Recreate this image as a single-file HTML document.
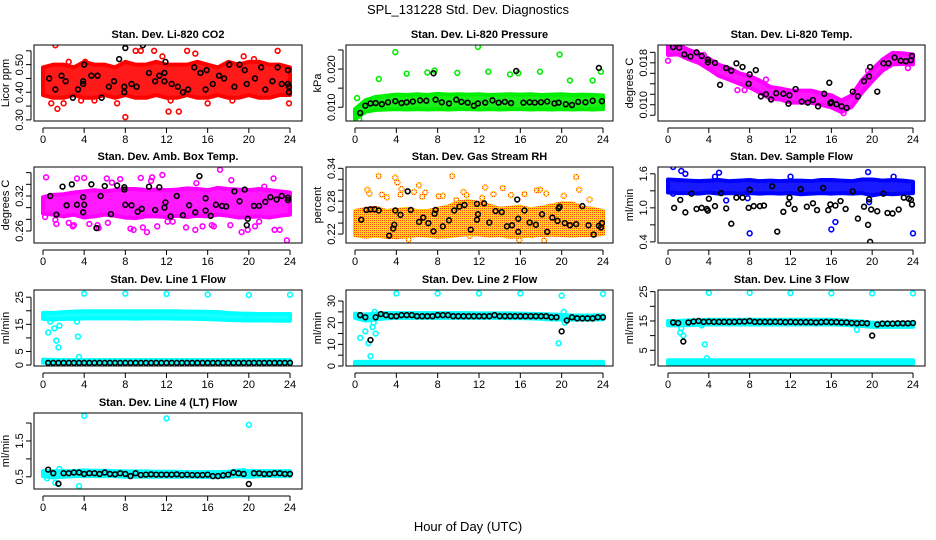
<!DOCTYPE html>
<html><head><meta charset="utf-8"><title>SPL_131228 Std. Dev. Diagnostics</title>
<style>
html,body{margin:0;padding:0;background:#fff;}
svg{display:block;font-family:"Liberation Sans",Arial,sans-serif;}
</style></head>
<body>
<svg id="chart" width="936" height="540" viewBox="0 0 936 540" xmlns="http://www.w3.org/2000/svg">
<defs>
<pattern id="rhcheck" width="2" height="2" patternUnits="userSpaceOnUse">
<rect width="2" height="2" fill="#ffd000"/><rect width="1" height="1" fill="#ff4000"/>
</pattern>
</defs>
<text x="468" y="14" text-anchor="middle" font-size="13">SPL_131228  Std. Dev. Diagnostics</text>
<text x="468" y="531" text-anchor="middle" font-size="13">Hour of Day (UTC)</text>
<g id="panels"></g>
</svg>
<script>
const hours25=[0,1,2,3,4,5,6,7,8,9,10,11,12,13,14,15,16,17,18,19,20,21,22,23,24];
const halfHours=[0.5,1,1.5,2,2.5,3,3.5,4,4.5,5,5.5,6,6.5,7,7.5,8,8.5,9,9.5,10,10.5,11,11.5,12,12.5,13,13.5,14,14.5,15,15.5,16,16.5,17,17.5,18,18.5,19,19.5,20,20.5,21,21.5,22,22.5,23,23.5,24];
const xTicks=[0,4,8,12,16,20,24];

// Panel 1: CO2
const co2Lo=[0.39,0.38,0.38,0.39,0.38,0.38,0.39,0.38,0.39,0.38,0.38,0.39,0.38,0.38,0.39,0.38,0.38,0.39,0.38,0.38,0.39,0.38,0.38,0.39,0.39];
const co2Hi=[0.49,0.50,0.50,0.49,0.51,0.50,0.50,0.49,0.51,0.50,0.50,0.51,0.50,0.50,0.50,0.51,0.50,0.49,0.51,0.50,0.51,0.51,0.50,0.50,0.49];
const co2OutH=[1.2,1.4,8,12.2,13.2,9,9.5,10.8,14,14.8,22.8,23.9,4.1,2.5,20.5,0.8,3.7,16,18.4,5,12.4,11.6,7.2,19.5,2];
const co2OutV=[0.57,0.34,0.31,0.33,0.33,0.55,0.55,0.55,0.55,0.54,0.55,0.36,0.51,0.51,0.52,0.36,0.37,0.36,0.37,0.37,0.37,0.53,0.36,0.53,0.36];
const co2BlkH=[0.6,1.2,1.8,2.2,2.9,3.4,3.9,3.9,4.0,4.7,5.3,5.7,6.4,6.9,7.4,7.9,7.9,8,8.6,9.1,9.7,10.3,10.9,11.3,11.8,11.8,11.9,12.5,13.1,13.6,14.1,14.7,15.3,15.8,15.9,16.5,17.1,17.6,18.1,18.6,19.1,19.6,19.8,20.6,21.2,21.6,22.3,22.8,23.2,23.8,23.8,23.9,23.9];
const co2BlkV=[0.45,0.41,0.46,0.44,0.38,0.41,0.44,0.43,0.50,0.46,0.46,0.38,0.42,0.44,0.52,0.40,0.42,0.56,0.43,0.42,0.57,0.47,0.44,0.46,0.44,0.47,0.51,0.43,0.42,0.40,0.41,0.49,0.47,0.41,0.48,0.43,0.46,0.45,0.50,0.42,0.50,0.48,0.43,0.45,0.49,0.41,0.44,0.49,0.43,0.48,0.43,0.40,0.42];

// Panel 2: Pressure
const prLo=[0.0068,0.0088,0.0093,0.0094,0.0095,0.0094,0.0095,0.0094,0.0095,0.0094,0.0095,0.0095,0.0094,0.0095,0.0094,0.0095,0.0095,0.0094,0.0095,0.0094,0.0095,0.0094,0.0095,0.0094,0.0095];
const prHi=[0.0095,0.0118,0.0127,0.0130,0.0133,0.0132,0.0134,0.0132,0.0135,0.0133,0.0134,0.0133,0.0134,0.0132,0.0133,0.0134,0.0133,0.0134,0.0132,0.0133,0.0134,0.0132,0.0133,0.0132,0.0131];
const prOutH=[3.9,11.9,19.8,5,2.3,7,7.7,9.9,12.9,15,15.8,17.9,20.8,23,23.8,0.2,0.4];
const prOutV=[0.0244,0.0258,0.0238,0.0188,0.0174,0.0191,0.0196,0.0190,0.0193,0.0186,0.0189,0.0193,0.0170,0.0170,0.0193,0.0124,0.0069];
const prBlkH=[0.5,1,1.5,2,2.6,3.2,3.9,4.5,5,5.6,6.3,6.9,7.6,7.8,8.4,9.1,9.8,10.3,10.9,11.5,11.9,12.6,13.3,13.9,14.5,15.1,15.6,16.3,16.9,17.4,18,18.6,19.3,19.7,20.4,21,21.6,22.3,23,23.6,23.9];
const prBlkV=[0.0085,0.0104,0.0110,0.0111,0.0108,0.0113,0.0116,0.0111,0.0113,0.0115,0.0118,0.0117,0.0189,0.0120,0.0113,0.0110,0.0120,0.0114,0.0112,0.0104,0.0110,0.0112,0.0118,0.0112,0.0114,0.0111,0.0195,0.0112,0.0113,0.0112,0.0113,0.0115,0.0110,0.0112,0.0108,0.0106,0.0114,0.0113,0.0117,0.0203,0.0116];

// Panel 3: Li-820 Temp
const tmpLo=[0.0195,0.0196,0.0187,0.0180,0.0168,0.0155,0.0148,0.0140,0.0133,0.0123,0.0112,0.0110,0.0104,0.0104,0.0104,0.0100,0.0095,0.0086,0.0096,0.0123,0.0145,0.0165,0.0177,0.0178,0.0177];
const tmpHi=[0.0215,0.0214,0.0205,0.0198,0.0188,0.0176,0.0170,0.0160,0.0155,0.0146,0.0134,0.0131,0.0127,0.0127,0.0127,0.0122,0.0118,0.0108,0.0118,0.0147,0.0167,0.0186,0.0199,0.0198,0.0196];
const tmpOutH=[0.0,7.5,9.6,23.5,17.2,6.8,3.5,19.6];
const tmpOutV=[0.0184,0.0128,0.0148,0.0170,0.0084,0.0128,0.0195,0.0165];
const tmpBlkH=[0.5,1.1,1.6,2.2,2.8,3.3,3.9,3.9,4.6,5.1,5.7,6.2,6.7,7.3,7.9,8,8.6,9.1,9.6,10.1,10.6,11.3,11.8,11.9,12.5,13.1,13.7,14.2,14.7,15.3,15.8,15.9,16.0,16.5,17.0,17.5,18.1,18.6,19.2,19.7,19.8,20.5,21.1,21.6,22.2,22.8,23.3,23.8,23.9];
const tmpBlkV=[0.0210,0.0209,0.0196,0.0192,0.0200,0.0193,0.0186,0.0181,0.0180,0.0138,0.0170,0.0165,0.0179,0.0172,0.0140,0.0158,0.0166,0.0116,0.0120,0.0110,0.0122,0.0121,0.0102,0.0118,0.0130,0.0106,0.0104,0.0109,0.0097,0.0121,0.0142,0.0103,0.0105,0.0101,0.0097,0.0094,0.0125,0.0116,0.0145,0.0154,0.0172,0.0125,0.0179,0.0179,0.0190,0.0184,0.0183,0.0185,0.0193];

// Panel 4: Amb Box Temp
const ambLo=[0.290,0.288,0.285,0.288,0.283,0.285,0.288,0.286,0.283,0.282,0.285,0.285,0.284,0.286,0.284,0.286,0.285,0.288,0.286,0.283,0.284,0.285,0.283,0.286,0.288];
const ambHi=[0.318,0.322,0.323,0.326,0.328,0.330,0.328,0.330,0.332,0.332,0.330,0.331,0.330,0.331,0.333,0.332,0.330,0.334,0.332,0.331,0.330,0.332,0.330,0.328,0.326];
const ambOutH=[0.3,0.2,1.3,2.9,3.3,4.0,4.5,5.3,6.2,6.7,7.5,8.5,9.5,10.1,10.5,11.1,12.6,13.9,14.9,16.6,17.2,18.3,19.3,21.5,22.4,23.7,2.5,6.3,9.7,12.1,14.8,16.4,18.2,20.6,22.5,1.2,8.8,10.6,15.5,23.0,3.0,5.4,11.6,19.9,21.0];
const ambOutV=[0.352,0.284,0.272,0.268,0.350,0.351,0.272,0.270,0.350,0.343,0.349,0.264,0.351,0.258,0.346,0.268,0.276,0.266,0.342,0.268,0.365,0.347,0.258,0.336,0.350,0.244,0.274,0.274,0.266,0.276,0.262,0.270,0.270,0.268,0.262,0.279,0.262,0.352,0.268,0.262,0.270,0.265,0.356,0.262,0.276];
const ambBlkH=[0.7,1.3,1.9,2.3,2.8,3.3,3.9,3.9,4.0,4.7,5.2,5.6,6.0,6.6,7.2,7.9,7.9,8.0,8.6,9.2,9.6,10.3,10.9,11.3,11.8,11.9,12.4,13.0,13.6,14.2,14.8,15.2,15.8,15.8,16.3,16.8,17.4,17.8,18.6,19.1,19.6,19.8,19.9,20.5,21.0,21.6,22.1,22.7,23.2,23.8,23.8];
const ambBlkV=[0.320,0.288,0.336,0.304,0.340,0.305,0.292,0.318,0.305,0.340,0.265,0.320,0.337,0.289,0.338,0.335,0.331,0.305,0.304,0.293,0.298,0.336,0.296,0.335,0.300,0.309,0.285,0.320,0.287,0.304,0.292,0.354,0.295,0.316,0.286,0.305,0.303,0.302,0.328,0.311,0.331,0.270,0.281,0.303,0.303,0.310,0.318,0.314,0.320,0.317,0.313];

// Panel 5: Gas Stream RH
const rhLo=[0.218,0.215,0.217,0.215,0.214,0.216,0.218,0.217,0.215,0.216,0.218,0.220,0.219,0.217,0.218,0.215,0.216,0.217,0.218,0.219,0.218,0.217,0.218,0.218,0.220];
const rhHi=[0.262,0.266,0.268,0.262,0.264,0.266,0.262,0.262,0.266,0.270,0.278,0.280,0.277,0.272,0.266,0.268,0.270,0.265,0.268,0.272,0.276,0.276,0.268,0.266,0.262];
const rhOutH=[1.2,1.4,2.3,2.6,3.9,4.1,4.5,5.2,5.7,6.2,6.5,8.5,9.4,10.5,11.1,12.6,13.4,14.3,15.1,15.9,16.4,17.1,17.6,17.9,18.3,18.5,20.2,21.4,21.7,22.7,23.8,6.8,3.1,8.1,10.8,12.3,4.4,9.8];
const rhOutV=[0.301,0.294,0.326,0.292,0.323,0.314,0.302,0.210,0.297,0.309,0.288,0.290,0.326,0.297,0.217,0.305,0.293,0.304,0.291,0.209,0.293,0.218,0.300,0.301,0.208,0.294,0.290,0.324,0.301,0.283,0.230,0.296,0.287,0.289,0.291,0.286,0.292,0.282];
const rhBlkH=[0.6,1.1,1.5,1.9,2.3,3.3,3.7,3.8,3.9,4.4,5.1,5.4,6.2,6.6,7.1,7.6,7.7,7.8,8.5,9.1,9.6,10.1,10.6,11.2,11.8,11.8,11.9,12.5,13,13.6,14.2,14.7,15.2,15.7,15.8,15.8,16.4,16.9,17.5,18.1,18.6,19.1,19.6,19.7,19.8,20.3,20.8,21.4,22.0,22.6,23.1,23.6,23.8,23.9];
const rhBlkV=[0.246,0.264,0.265,0.265,0.263,0.217,0.230,0.237,0.263,0.255,0.298,0.264,0.242,0.250,0.240,0.225,0.257,0.264,0.234,0.245,0.263,0.270,0.273,0.228,0.275,0.246,0.256,0.276,0.241,0.262,0.260,0.234,0.236,0.283,0.248,0.224,0.263,0.241,0.237,0.256,0.224,0.250,0.244,0.267,0.270,0.240,0.236,0.238,0.271,0.236,0.219,0.235,0.232,0.240];

// Panel 6: Sample Flow
const sfLo=[1.27,1.26,1.26,1.25,1.27,1.25,1.26,1.25,1.26,1.25,1.26,1.25,1.26,1.24,1.25,1.26,1.25,1.26,1.25,1.26,1.22,1.25,1.24,1.25,1.26];
const sfHi=[1.50,1.49,1.48,1.47,1.48,1.49,1.47,1.48,1.49,1.47,1.48,1.47,1.48,1.48,1.47,1.49,1.49,1.48,1.47,1.50,1.50,1.48,1.49,1.48,1.46];
const sfOutH=[0.5,1.3,1.7,4.6,5.0,5.7,8.0,16.0,16.4,24.0,19.7,0.5,22.1,12.0,19.6,7.8];
const sfOutV=[1.72,1.65,1.60,1.55,1.62,1.13,0.55,0.62,0.75,0.55,1.10,1.25,1.55,1.55,1.63,1.17];
const sfBlkH=[0.6,1.2,1.7,2.3,2.8,3.3,3.8,3.9,4.0,4.6,5.2,5.7,6.2,6.7,7.3,7.9,8.0,8.4,9.0,9.4,10.2,10.7,11.3,11.8,11.9,12.4,13.0,13.6,14.2,14.6,15.2,15.7,15.9,16.4,16.9,17.4,18.1,18.6,19.2,19.6,19.7,19.8,19.9,20.5,21.1,21.5,22.0,22.6,23.1,23.6,23.8,23.9];
const sfBlkV=[1.00,1.14,0.92,1.25,0.98,1.00,0.98,0.95,1.16,1.03,1.26,0.99,0.72,1.18,1.18,1.00,1.32,1.03,1.03,1.04,1.38,0.58,0.93,1.07,1.18,0.98,1.33,1.02,1.08,0.96,1.35,0.96,1.06,1.04,1.12,0.98,1.29,0.81,1.02,0.70,1.15,0.40,0.97,0.94,1.25,0.91,0.90,0.97,1.18,1.16,1.14,1.06];

// Panel 7: Line 1 Flow
const l1TopLo=[17.0,16.8,17.0,17.0,17.2,17.2,17.2,17.2,17.2,17.1,17.2,17.2,17.2,17.1,17.1,17.0,16.9,16.8,16.6,16.5,16.4,16.4,16.4,16.3,16.3];
const l1TopHi=[19.2,19.2,19.5,19.7,19.8,19.8,19.8,19.8,19.8,19.8,19.8,19.8,19.8,19.8,19.7,19.7,19.6,19.5,19.2,19.0,18.9,18.8,18.8,18.8,18.8];
const l1BotLo=[0.9,0.9,0.9,0.9,0.9,0.9,0.9,0.9,0.9,0.9,0.9,0.9,0.9,0.9,0.9,0.9,0.9,0.9,0.9,0.9,0.9,0.9,0.9,0.9,0.9];
const l1BotHi=[2.0,1.9,1.8,1.8,1.8,1.8,1.8,1.8,1.8,1.8,1.8,1.8,1.8,1.8,1.8,1.8,1.8,1.8,1.8,1.8,1.8,1.8,1.8,1.8,1.8];
const l1OutH=[4,8,12,16,20,24,0.5,0.7,1.1,1.3,1.5,1.6,3.4,3.5,3.3,19.9];
const l1OutV=[26.3,26.3,26.2,26.0,25.8,25.9,12,16,13.5,9,6.5,14.5,10.5,3,16,18.5];
const l1BlkV=[0.8,0.8,0.8,0.8,0.8,0.8,0.8,0.8,0.8,0.8,0.8,0.8,0.8,0.8,0.8,0.8,0.8,0.8,0.8,0.8,0.8,0.8,0.8,0.8,0.8,0.8,0.8,0.8,0.8,0.8,0.8,0.8,0.8,0.8,0.8,0.8,0.8,0.8,0.8,0.8,0.8,0.8,0.8,0.8,0.8,0.8,0.8,0.8];

// Panel 8: Line 2 Flow
const l2TopLo=[22.2,21.0,21.5,22.0,22.2,22.2,22.2,22.2,22.2,22.2,22.2,22.2,22.2,22.2,22.2,22.1,22.1,22.0,21.8,21.5,21.5,21.4,21.4,21.4,21.6];
const l2TopHi=[24.2,23.8,24.2,24.4,24.4,24.4,24.4,24.4,24.4,24.4,24.4,24.4,24.3,24.3,24.3,24.3,24.2,24.1,24.0,23.8,23.6,23.3,23.3,23.3,23.5];
const l2BotLo=[0.4,0.4,0.4,0.4,0.4,0.4,0.4,0.4,0.4,0.4,0.4,0.4,0.4,0.4,0.4,0.4,0.4,0.4,0.4,0.4,0.4,0.4,0.4,0.4,0.4];
const l2BotHi=[1.9,1.9,1.9,1.9,1.9,1.9,1.9,1.9,1.9,1.9,1.9,1.9,1.9,1.9,1.9,1.9,1.9,1.9,1.9,1.9,1.9,1.9,1.9,1.9,1.9];
const l2OutH=[4,8,12,16,20,24,0.5,1,1.3,1.5,1.7,1.8,1.9,2,19.7,20.2,20.3];
const l2OutV=[33.5,33.5,33.5,33.5,32.5,33.3,13,16,10.5,4.5,18,20,25,15,10.5,25,20];
const l2BlkV=[23.5,22.5,12,22.5,24,23.5,23,23,23.5,23.5,23.5,23,23,23,23,23.5,23.5,23.5,23,23,23,23,23,23,23,23,23.5,23,23,23,23,23,23,23,23,23,23,22.5,22.5,16,21,22.5,22,22,22,22,22.5,22.5];

// Panel 9: Line 3 Flow
const l3TopLo=[13.5,13.5,13.6,13.7,13.8,13.8,13.8,13.8,13.8,13.8,13.8,13.8,13.8,13.8,13.8,13.8,13.8,13.7,13.5,13.3,13.0,13.0,13.0,13.0,13.0];
const l3TopHi=[15.0,15.0,15.2,15.3,15.4,15.4,15.4,15.4,15.4,15.4,15.4,15.4,15.4,15.4,15.4,15.4,15.4,15.2,15.0,14.8,14.4,14.4,14.4,14.4,14.5];
const l3BotLo=[0.4,0.4,0.4,0.4,0.4,0.4,0.4,0.4,0.4,0.4,0.4,0.4,0.4,0.4,0.4,0.4,0.4,0.4,0.4,0.4,0.4,0.4,0.4,0.4,0.4];
const l3BotHi=[1.6,1.6,1.6,1.6,1.6,1.6,1.6,1.6,1.6,1.6,1.6,1.6,1.6,1.6,1.6,1.6,1.6,1.6,1.6,1.6,1.6,1.6,1.6,1.6,1.6];
const l3OutH=[4,8,12,16,20,24,1.2,1.3,1.5,3.3,3.6,3.8,18.5];
const l3OutV=[24.6,24.6,24.5,24.4,24.4,24.4,11,12.5,10,13.5,7,2.3,12];
const l3BlkV=[14.5,14.3,8,14.5,14.8,15,14.7,14.8,14.7,14.7,14.7,14.7,14.7,14.8,14.8,15,14.7,14.7,14.7,14.7,14.7,14.7,14.6,14.7,14.6,14.6,14.6,14.6,14.5,14.6,14.7,14.6,14.6,14.5,14.5,14.3,14.2,14.3,14.2,10,13.8,14.1,14.1,14.1,14.2,14.2,14.2,14.3];

// Panel 10: Line 4 (LT) Flow
const l4Lo=[0.52,0.48,0.50,0.52,0.52,0.52,0.52,0.52,0.50,0.50,0.50,0.50,0.50,0.50,0.50,0.50,0.49,0.49,0.50,0.52,0.50,0.52,0.52,0.52,0.52];
const l4Hi=[0.66,0.66,0.66,0.66,0.68,0.67,0.67,0.66,0.65,0.65,0.65,0.64,0.64,0.64,0.63,0.63,0.63,0.63,0.64,0.68,0.66,0.66,0.66,0.66,0.66];
const l4OutH=[4,12,20,3.5,1.2,0.4,1.6,1.5,19.5];
const l4OutV=[2.20,2.13,1.95,0.24,0.33,0.46,0.72,0.30,0.66];
const l4BlkV=[0.70,0.60,0.31,0.60,0.60,0.62,0.62,0.58,0.60,0.60,0.58,0.62,0.58,0.57,0.60,0.58,0.52,0.60,0.55,0.56,0.57,0.56,0.56,0.56,0.56,0.57,0.55,0.56,0.55,0.55,0.55,0.56,0.52,0.52,0.54,0.56,0.62,0.60,0.58,0.30,0.60,0.60,0.58,0.58,0.60,0.60,0.58,0.58];

const cols=[{l:34,r:302,x0:43,x24:290},{l:346,r:613,x0:355,x24:603},{l:658,r:925,x0:668,x24:913}];
const rows=[{t:45,b:121},{t:167,b:243},{t:290,b:366},{t:413,b:489}];

const panels=[
 {name:'co2',title:'Stan. Dev. Li-820 CO2',ylab:'Licor ppm',c:0,r:0,ymin:0.296,ymax:0.571,ticks:[0.30,0.35,0.40,0.45,0.50,0.55],labs:['0.30','','0.40','','0.50',''],color:'#ff0000',
  bands:[[co2Lo,co2Hi]],outH:co2OutH,outV:co2OutV,blkH:co2BlkH,blkV:co2BlkV},
 {name:'pressure',title:'Stan. Dev. Li-820 Pressure',ylab:'kPa',c:1,r:0,ymin:0.0064,ymax:0.0263,ticks:[0.010,0.015,0.020,0.025],labs:['0.010','','0.020',''],color:'#00ee00',
  bands:[[prLo,prHi]],outH:prOutH,outV:prOutV,blkH:prBlkH,blkV:prBlkV},
 {name:'li820-temp',title:'Stan. Dev. Li-820 Temp.',ylab:'degrees C',c:2,r:0,ymin:0.0069,ymax:0.0214,ticks:[0.008,0.010,0.012,0.014,0.016,0.018,0.020],labs:['','0.010','','','','0.018',''],color:'#ff00ff',
  bands:[[tmpLo,tmpHi]],outH:tmpOutH,outV:tmpOutV,blkH:tmpBlkH,blkV:tmpBlkV},
 {name:'amb-box-temp',title:'Stan. Dev. Amb. Box Temp.',ylab:'degrees C',c:0,r:1,ymin:0.2394,ymax:0.3697,ticks:[0.26,0.28,0.30,0.32,0.34,0.36],labs:['0.26','','','0.32','',''],color:'#ff00ff',
  bands:[[ambLo,ambHi]],outH:ambOutH,outV:ambOutV,blkH:ambBlkH,blkV:ambBlkV},
 {name:'gas-stream-rh',title:'Stan. Dev. Gas Stream RH',ylab:'percent',c:1,r:1,ymin:0.2036,ymax:0.3424,ticks:[0.22,0.24,0.26,0.28,0.30,0.32,0.34],labs:['0.22','','','0.28','','','0.34'],color:'url(#rhcheck)',
  bands:[[rhLo,rhHi]],outH:rhOutH,outV:rhOutV,blkH:rhBlkH,blkV:rhBlkV},
 {name:'sample-flow',title:'Stan. Dev. Sample Flow',ylab:'ml/min',c:2,r:1,ymin:0.38,ymax:1.72,ticks:[0.4,0.7,1.0,1.3,1.6],labs:['0.4','','1.0','','1.6'],color:'#0000ff',
  bands:[[sfLo,sfHi]],outH:sfOutH,outV:sfOutV,blkH:sfBlkH,blkV:sfBlkV},
 {name:'line1-flow',title:'Stan. Dev. Line 1 Flow',ylab:'ml/min',c:0,r:2,ymin:-0.35,ymax:27.65,ticks:[0,5,10,15,20,25],labs:['0','5','','15','','25'],color:'#00ffff',
  bands:[[l1TopLo,l1TopHi],[l1BotLo,l1BotHi]],outH:l1OutH,outV:l1OutV,blkH:halfHours,blkV:l1BlkV},
 {name:'line2-flow',title:'Stan. Dev. Line 2 Flow',ylab:'ml/min',c:1,r:2,ymin:0,ymax:35.1,ticks:[0,5,10,15,20,25,30],labs:['0','','10','','20','','30'],color:'#00ffff',
  bands:[[l2TopLo,l2TopHi],[l2BotLo,l2BotHi]],outH:l2OutH,outV:l2OutV,blkH:halfHours,blkV:l2BlkV},
 {name:'line3-flow',title:'Stan. Dev. Line 3 Flow',ylab:'ml/min',c:2,r:2,ymin:-0.36,ymax:25.56,ticks:[0,5,10,15,20,25],labs:['','5','','15','','25'],color:'#00ffff',
  bands:[[l3TopLo,l3TopHi],[l3BotLo,l3BotHi]],outH:l3OutH,outV:l3OutV,blkH:halfHours,blkV:l3BlkV},
 {name:'line4-flow',title:'Stan. Dev. Line 4 (LT) Flow',ylab:'ml/min',c:0,r:3,ymin:0.16,ymax:2.28,ticks:[0.5,1.0,1.5,2.0],labs:['0.5','','1.5',''],color:'#00ffff',
  bands:[[l4Lo,l4Hi]],outH:l4OutH,outV:l4OutV,blkH:halfHours,blkV:l4BlkV}
];

const NS='http://www.w3.org/2000/svg';
function mk(tag,attrs,parent){const e=document.createElementNS(NS,tag);for(const k in attrs)e.setAttribute(k,attrs[k]);parent.appendChild(e);return e;}
const root=document.getElementById('panels');

panels.forEach(p=>{
 const C=cols[p.c],R=rows[p.r];
 const sx=h=>C.x0+h*(C.x24-C.x0)/24;
 const sy=v=>R.b-(v-p.ymin)/(p.ymax-p.ymin)*(R.b-R.t);
 const g=mk('g',{},root);
 
 
 const clipId='clip-'+p.name;
 const cp=mk('clipPath',{id:clipId},g);
 mk('rect',{x:C.l,y:R.t,width:C.r-C.l,height:R.b-R.t},cp);
 const t=mk('text',{x:(C.l+C.r)/2,y:R.t-7,'text-anchor':'middle','font-size':'11','font-weight':'bold'},g);
 t.textContent=p.title;
 
 
 const yl=mk('text',{x:0,y:0,'text-anchor':'middle','font-size':'11',transform:`translate(${C.l-25},${(R.t+R.b)/2}) rotate(-90)`},g);
 yl.textContent=p.ylab;
 
 
 const data=mk('g',{'clip-path':`url(#${clipId})`},g);
 
 
 p.bands.forEach(b=>{
  const lo=b[0],hi=b[1];
  let pts=hours25.map((h,i)=>sx(h)+','+sy(hi[i]));
  pts=pts.concat(hours25.slice().reverse().map((h,j)=>{const i=hours25.length-1-j;return sx(h)+','+sy(lo[i]);}));
  const poly=mk('polygon',{points:pts.join(' '),fill:p.color,stroke:p.color,'stroke-width':'4','stroke-linejoin':'round','fill-opacity':'0.9'},data);
  
  
 });
 p.outH.forEach((h,i)=>{
  const c=mk('circle',{cx:sx(h),cy:sy(p.outV[i]),r:2.4,fill:'none',stroke:p.color,'stroke-width':'1.6'},data);
  
  
 });
 p.blkH.forEach((h,i)=>{
  const c=mk('circle',{cx:sx(h),cy:sy(p.blkV[i]),r:2.4,fill:'none',stroke:'#000','stroke-width':'1.6'},data);
  
  
 });
 const box=mk('rect',{x:C.l,y:R.t,width:C.r-C.l,height:R.b-R.t,fill:'none',stroke:'#000','stroke-width':'1'},g);
 
 
 const xa=mk('g',{},g);
 
 
 mk('line',{x1:sx(0),x2:sx(24),y1:R.b+7,y2:R.b+7,stroke:'#000'},xa);
 xTicks.forEach(h=>{
  mk('line',{x1:sx(h),x2:sx(h),y1:R.b+7,y2:R.b+12,stroke:'#000'},xa);
  const tl=mk('text',{x:sx(h),y:R.b+22,'text-anchor':'middle','font-size':'11'},xa);
  tl.textContent=String(h);
 });
 const ya=mk('g',{},g);
 
 
 const yt0=sy(p.ticks[0]),yt1=sy(p.ticks[p.ticks.length-1]);
 mk('line',{x1:C.l-3,x2:C.l-3,y1:yt0,y2:yt1,stroke:'#000'},ya);
 p.ticks.forEach((v,i)=>{
  const y=sy(v);
  mk('line',{x1:C.l-8,x2:C.l-3,y1:y,y2:y,stroke:'#000'},ya);
  if(p.labs[i]){
   const tl=mk('text',{x:0,y:0,'text-anchor':'middle','font-size':'11',transform:`translate(${C.l-11},${y}) rotate(-90)`},ya);
   tl.textContent=p.labs[i];
  }
 });
});
</script>
</body></html>
